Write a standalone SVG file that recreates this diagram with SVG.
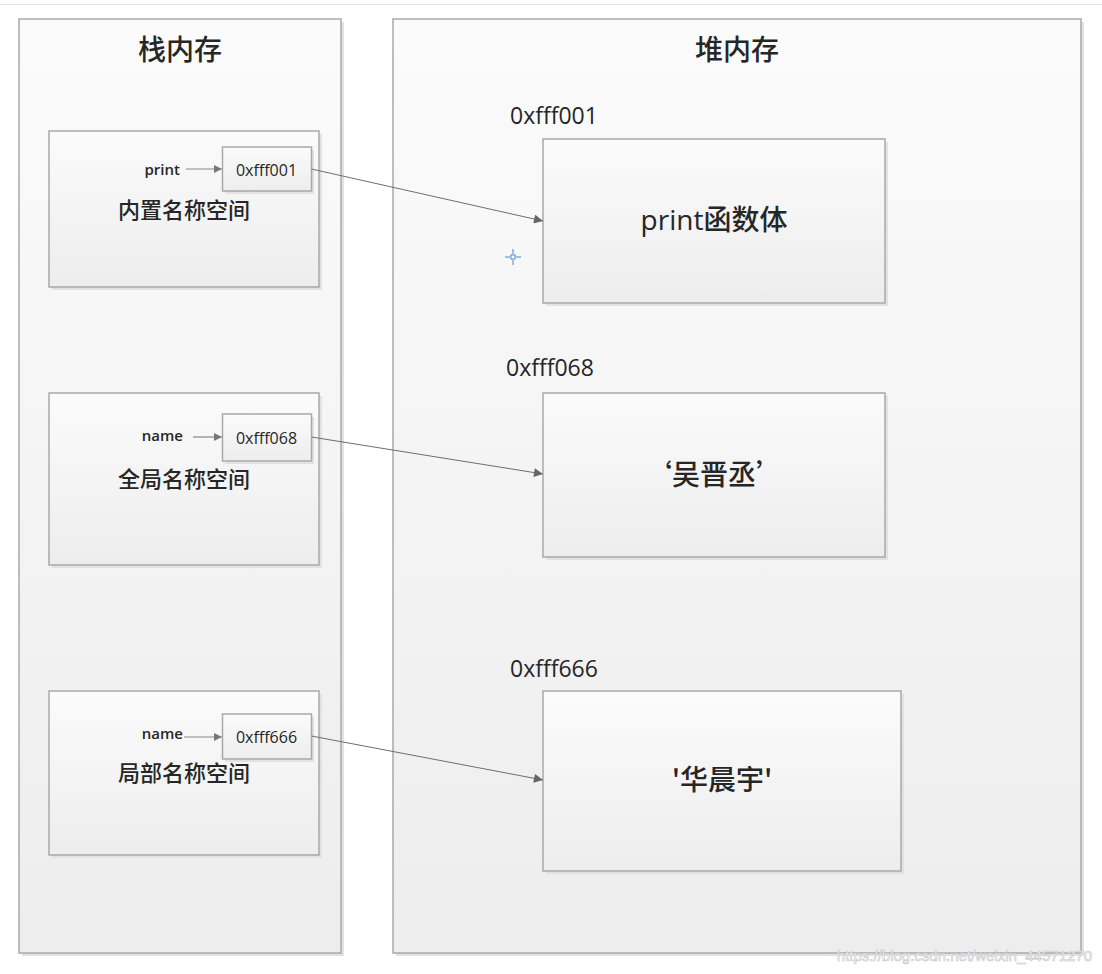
<svg xmlns="http://www.w3.org/2000/svg" width="1102" height="974" viewBox="0 0 1102 974">
<defs>
<linearGradient id="g" x1="0" y1="0" x2="0" y2="1">
<stop offset="0" stop-color="#fbfbfb"/>
<stop offset="1" stop-color="#ededed"/>
</linearGradient>
<marker id="ah" viewBox="0 0 10 10" refX="10" refY="5" markerWidth="10" markerHeight="9" markerUnits="userSpaceOnUse" orient="auto">
<path d="M0,0 L10,5 L0,10 Z" fill="#666"/>
</marker>
<marker id="ahs" viewBox="0 0 10 10" refX="10" refY="5" markerWidth="8" markerHeight="8" markerUnits="userSpaceOnUse" orient="auto">
<path d="M0,0 L10,5 L0,10 Z" fill="#777"/>
</marker>
</defs>
<style>
.box{fill:url(#g);stroke:#a9a9a9;stroke-width:1.5}
.sh{fill:#e2e2e2}
.t{font-family:"Open Sans","Noto Sans CJK SC",sans-serif;fill:#262626;font-weight:500}
.ts{font-family:"Open Sans","Noto Sans CJK SC",sans-serif;fill:#262626;font-weight:600}
.cjk{font-family:"Noto Sans CJK SC","Open Sans",sans-serif;fill:#262626;font-weight:500}
.conn{stroke:#6e6e6e;stroke-width:1;fill:none}
.inner{stroke:#888;stroke-width:1.2;fill:none}
</style>
<rect width="1102" height="974" fill="#fff"/>
<line x1="0" y1="4.5" x2="1102" y2="4.5" stroke="#e3e3e3" stroke-width="1"/>

<g id="stack">
<rect class="sh" x="22" y="22" width="322" height="934"/>
<rect class="box" x="19" y="19" width="322" height="934"/>
<text class="cjk" x="180" y="60" font-size="28" text-anchor="middle">栈内存</text>
</g>
<g id="heap">
<rect class="sh" x="396" y="22" width="688" height="934"/>
<rect class="box" x="393" y="19" width="688" height="934"/>
<text class="cjk" x="737" y="60" font-size="28" text-anchor="middle">堆内存</text>
</g>

<g id="ns-builtin">
<rect class="sh" x="52" y="134" width="270" height="156"/>
<rect class="box" x="49" y="131" width="270" height="156"/>
<text class="ts" x="180" y="175" font-size="15" text-anchor="end">print</text>
<line class="inner" x1="186" y1="169" x2="222" y2="169" marker-end="url(#ahs)"/>
<text class="cjk" x="184" y="218" font-size="22" text-anchor="middle">内置名称空间</text>
</g>
<g id="addr-builtin">
<rect class="sh" x="225" y="150" width="89" height="44"/>
<rect class="box" x="222.5" y="147" width="89" height="44"/>
<text class="t" x="266.5" y="175.5" font-size="16" text-anchor="middle">0xfff001</text>
</g>

<g id="ns-global">
<rect class="sh" x="52" y="396" width="270" height="172"/>
<rect class="box" x="49" y="393" width="270" height="172"/>
<text class="ts" x="183" y="441" font-size="15" text-anchor="end">name</text>
<line class="inner" x1="193" y1="437" x2="222" y2="437" marker-end="url(#ahs)"/>
<text class="cjk" x="184" y="487" font-size="22" text-anchor="middle">全局名称空间</text>
</g>
<g id="addr-global">
<rect class="sh" x="225" y="417" width="89" height="47"/>
<rect class="box" x="222.5" y="414" width="89" height="47"/>
<text class="t" x="266.5" y="444" font-size="16" text-anchor="middle">0xfff068</text>
</g>

<g id="ns-local">
<rect class="sh" x="52" y="694" width="270" height="164"/>
<rect class="box" x="49" y="691" width="270" height="164"/>
<text class="ts" x="183" y="739" font-size="15" text-anchor="end">name</text>
<line class="inner" x1="184" y1="737" x2="222" y2="737" marker-end="url(#ahs)"/>
<text class="cjk" x="184" y="781" font-size="22" text-anchor="middle">局部名称空间</text>
</g>
<g id="addr-local">
<rect class="sh" x="225" y="717" width="89" height="45"/>
<rect class="box" x="222.5" y="714" width="89" height="45"/>
<text class="t" x="266.5" y="742.5" font-size="16" text-anchor="middle">0xfff666</text>
</g>

<g id="heap-print">
<text class="t" x="510" y="124" font-size="23">0xfff001</text>
<rect class="sh" x="546" y="142" width="342" height="164"/>
<rect class="box" x="543" y="139" width="342" height="164"/>
<text class="t" x="714" y="230" font-size="28" text-anchor="middle">print函数体</text>
</g>
<g id="heap-wu">
<text class="t" x="506" y="376" font-size="23">0xfff068</text>
<rect class="sh" x="546" y="396" width="342" height="164"/>
<rect class="box" x="543" y="393" width="342" height="164"/>
<text class="cjk" x="714" y="485" font-size="28" text-anchor="middle">‘吴晋丞’</text>
</g>
<g id="heap-hua">
<text class="t" x="510" y="677" font-size="23">0xfff666</text>
<rect class="sh" x="546" y="694" width="358" height="180"/>
<rect class="box" x="543" y="691" width="358" height="180"/>
<text class="cjk" x="722" y="790" font-size="28" text-anchor="middle">'华晨宇'</text>
</g>

<g id="connectors">
<line class="conn" x1="311.5" y1="169" x2="543" y2="221" marker-end="url(#ah)"/>
<line class="conn" x1="311.5" y1="437" x2="543" y2="474" marker-end="url(#ah)"/>
<line class="conn" x1="311.5" y1="736" x2="543" y2="780" marker-end="url(#ah)"/>
</g>

<g id="cursor" stroke="#4a86c8" stroke-width="1" fill="none">
<rect x="511" y="255" width="4" height="4" fill="#fff"/>
<line x1="505" y1="257" x2="510" y2="257"/>
<line x1="516" y1="257" x2="521" y2="257"/>
<line x1="513" y1="249" x2="513" y2="254"/>
<line x1="513" y1="260" x2="513" y2="265"/>
</g>

<text x="1092" y="961" font-family="Liberation Sans, Arial, sans-serif" font-size="15" text-anchor="end" fill="#fff" stroke="#c4c4c4" stroke-width="0.6">https://blog.csdn.net/weixin_44571270</text>
</svg>
